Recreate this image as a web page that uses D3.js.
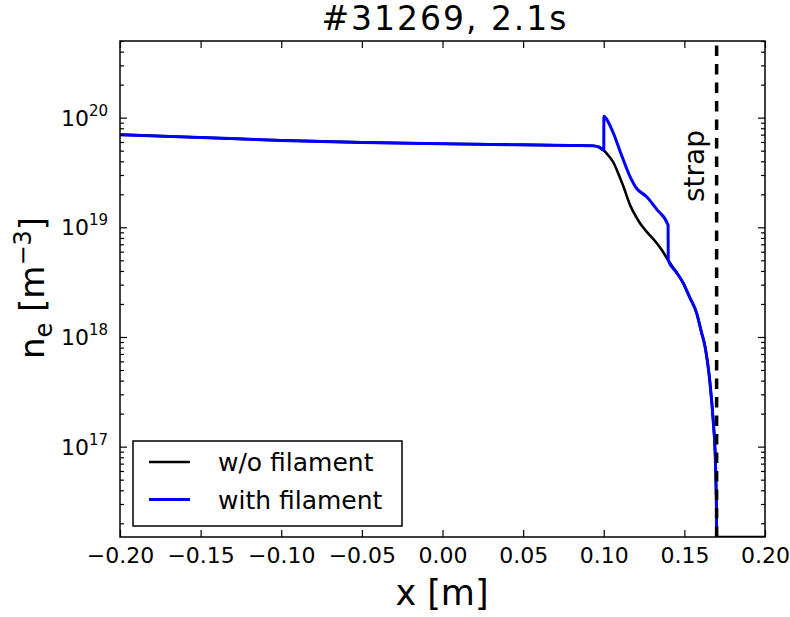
<!DOCTYPE html>
<html>
<head>
<meta charset="utf-8">
<script src="https://cdn.jsdelivr.net/npm/d3@7"></script>
<style>
  body { margin: 0; background: #fff; }
  text { font-family: "DejaVu Sans", sans-serif; fill: #000; }
</style>
</head>
<body>
<svg id="chart" width="790" height="617"></svg>
<script>
// Density profile in front of the antenna, shot #31269 at 2.1 s
const xTicks = [-0.20, -0.15, -0.10, -0.05, 0.00, 0.05, 0.10, 0.15, 0.20];
const yTickPowers = [17, 18, 19, 20];

// without filament (black)
const xNoFil = [-0.20, -0.15, -0.10, -0.05, 0.00, 0.05, 0.08, 0.093, 0.097, 0.100,
  0.103, 0.106, 0.109, 0.112, 0.1163, 0.120, 0.1225, 0.127, 0.1328, 0.136, 0.140,
  0.145, 0.1493, 0.153, 0.1576, 0.1605, 0.1628, 0.1659, 0.168, 0.169, 0.1696, 0.1699, 0.1700, 0.20];
const neNoFil = [7.0e19, 6.6e19, 6.2e19, 5.95e19, 5.78e19, 5.65e19, 5.58e19, 5.55e19, 5.4e19, 5.05e19,
  4.5e19, 3.9e19, 3.1e19, 2.4e19, 1.6e19, 1.25e19, 1.09e19, 9.0e18, 7.2e18, 6.2e18, 5.0e18,
  3.9e18, 3.1e18, 2.35e18, 1.65e18, 1.12e18, 8.2e17, 3.8e17, 1.64e17, 9.4e16, 4.7e16, 2.5e16, 1.5e16, 1.5e16];

// with filament (blue)
const xFil = [-0.20, -0.15, -0.10, -0.05, 0.00, 0.05, 0.08, 0.093, 0.097, 0.100,
  0.1001, 0.103, 0.106, 0.110, 0.1163, 0.120, 0.1266, 0.133, 0.1399, 0.140,
  0.145, 0.1493, 0.153, 0.1576, 0.1605, 0.1628, 0.1659, 0.168, 0.169, 0.1696, 0.1699, 0.1700];
const neFil = [7.0e19, 6.6e19, 6.2e19, 5.95e19, 5.78e19, 5.65e19, 5.58e19, 5.55e19, 5.4e19, 5.05e19,
  1.03e20, 9.0e19, 7.2e19, 5.0e19, 2.9e19, 2.3e19, 1.9e19, 1.45e19, 1.05e19, 5.0e18,
  3.9e18, 3.1e18, 2.35e18, 1.65e18, 1.12e18, 8.2e17, 3.8e17, 1.64e17, 9.4e16, 4.7e16, 2.5e16, 1.5e16];

const strapX = 0.17;
const seriesNames = ["w/o filament", "with filament"];
const seriesColors = ["#000000", "#0000ff"];

const svg = d3.select("#chart");
const m = { left: 120, right: 765, top: 41, bottom: 537 };

const x = d3.scaleLinear().domain([-0.2, 0.2]).range([m.left, m.right]);
const y = d3.scaleLog().domain([1.5e16, 5e20]).range([m.bottom, m.top]);

svg.append("defs").append("clipPath").attr("id", "plotclip")
  .append("rect").attr("x", m.left).attr("y", m.top)
  .attr("width", m.right - m.left).attr("height", m.bottom - m.top);

const plot = svg.append("g").attr("clip-path", "url(#plotclip)");

const line = d3.line().x(d => x(d[0])).y(d => y(d[1])).curve(d3.curveMonotoneX);

plot.append("path")
  .datum(d3.zip(xNoFil, neNoFil))
  .attr("d", line).attr("fill", "none")
  .attr("stroke", seriesColors[0]).attr("stroke-width", 2.6)
  .attr("stroke-linejoin", "round");

plot.append("path")
  .datum(d3.zip(xFil, neFil))
  .attr("d", line).attr("fill", "none")
  .attr("stroke", seriesColors[1]).attr("stroke-width", 3)
  .attr("stroke-linejoin", "round");

// strap position
plot.append("line")
  .attr("x1", x(strapX)).attr("x2", x(strapX))
  .attr("y1", m.bottom).attr("y2", m.top)
  .attr("stroke", "#000").attr("stroke-width", 3.5)
  .attr("stroke-dasharray", "10.5,8");

svg.append("text")
  .attr("transform", `translate(${x(strapX) - 13},166) rotate(-90)`)
  .attr("text-anchor", "middle")
  .style("font-size", "28px")
  .text("strap");

// axes with inward ticks on all four sides
const tickLen = 7, minorLen = 4;
const xAxisBottom = d3.axisBottom(x).tickValues(xTicks).tickSize(-tickLen).tickPadding(10)
  .tickFormat(d => d3.format(".2f")(d).replace("-", "\u2212"));
const gxb = svg.append("g").attr("transform", `translate(0,${m.bottom})`).call(xAxisBottom);
svg.append("g").attr("transform", `translate(0,${m.top})`)
  .call(d3.axisTop(x).tickValues(xTicks).tickSize(-tickLen).tickFormat(""));

const majorY = yTickPowers.map(p => Math.pow(10, p));
const minorY = [];
for (let p = 16; p <= 20; p++) for (let k = 2; k <= 9; k++) {
  const v = k * Math.pow(10, p);
  if (v >= 1.5e16 && v <= 5e20) minorY.push(v);
}

svg.append("g").attr("transform", `translate(${m.left},0)`)
  .call(d3.axisLeft(y).tickValues(majorY).tickSize(-tickLen).tickFormat(""));
svg.append("g").attr("transform", `translate(${m.right},0)`)
  .call(d3.axisRight(y).tickValues(majorY).tickSize(-tickLen).tickFormat(""));
svg.append("g").attr("transform", `translate(${m.left},0)`)
  .call(d3.axisLeft(y).tickValues(minorY).tickSize(-minorLen).tickFormat(""));
svg.append("g").attr("transform", `translate(${m.right},0)`)
  .call(d3.axisRight(y).tickValues(minorY).tickSize(-minorLen).tickFormat(""));

svg.selectAll(".domain").remove();
svg.selectAll(".tick line").attr("stroke", "#000").attr("stroke-width", 1.2);
gxb.selectAll(".tick text").style("font-size", "22px").style("font-family", "DejaVu Sans");

// y tick labels as powers of ten
const ylab = svg.append("g");
yTickPowers.forEach(p => {
  const t = ylab.append("text")
    .attr("x", 108).attr("y", y(Math.pow(10, p)) + 8)
    .attr("text-anchor", "end").style("font-size", "22px");
  t.append("tspan").text("10");
  t.append("tspan").attr("dy", -10).style("font-size", "15px").text(String(p));
});

// frame
svg.append("rect")
  .attr("x", m.left).attr("y", m.top)
  .attr("width", m.right - m.left).attr("height", m.bottom - m.top)
  .attr("fill", "none").attr("stroke", "#000").attr("stroke-width", 1.5);

// title and axis labels
svg.append("text").attr("x", 444).attr("y", 30).attr("text-anchor", "middle")
  .style("font-size", "33px").attr("textLength", 245).attr("lengthAdjust", "spacing")
  .text("#31269, 2.1s");

svg.append("text").attr("x", 442).attr("y", 605).attr("text-anchor", "middle")
  .style("font-size", "35px").text("x [m]");

const yl = svg.append("text")
  .attr("transform", "translate(44,288) rotate(-90)")
  .attr("text-anchor", "middle").style("font-size", "34px");
yl.append("tspan").text("n");
yl.append("tspan").attr("dy", 8).style("font-size", "24px").text("e");
yl.append("tspan").attr("dy", -8).text(" [m");
yl.append("tspan").attr("dy", -13).style("font-size", "24px").text("\u22123");
yl.append("tspan").attr("dy", 13).text("]");

// legend
const lg = svg.append("g");
lg.append("rect").attr("x", 133).attr("y", 441).attr("width", 269).attr("height", 85)
  .attr("fill", "#fff").attr("stroke", "#000").attr("stroke-width", 1.5);
seriesNames.forEach((name, i) => {
  const cy = 462 + i * 37.5;
  lg.append("line").attr("x1", 149).attr("x2", 190).attr("y1", cy).attr("y2", cy)
    .attr("stroke", seriesColors[i]).attr("stroke-width", i === 0 ? 2.6 : 3);
  lg.append("text").attr("x", 218).attr("y", cy + 9).style("font-size", "25px").text(name);
});
</script>
</body>
</html>
